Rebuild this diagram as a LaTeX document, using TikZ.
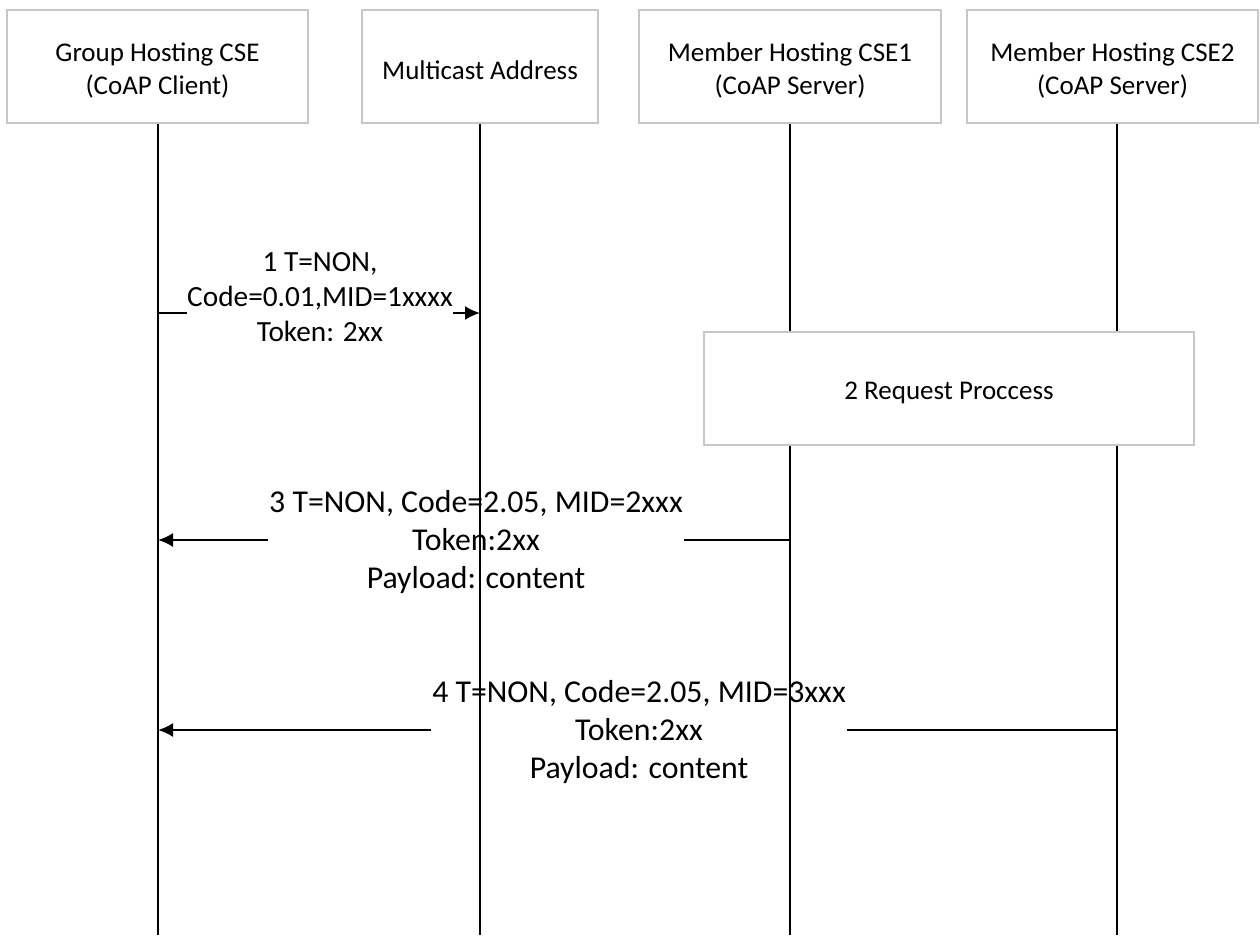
\documentclass[tikz,border=0pt]{standalone}
\usepackage{fontspec}
\setmainfont{Carlito}
\usetikzlibrary{arrows.meta}

\tikzset{
  head/.style={draw=black!22, line width=1.3pt, fill=white,
    minimum height=113pt, inner sep=0pt},
  headtext/.style={align=center, yshift=-4pt, inner sep=0pt,
    font=\fontsize{27}{33}\selectfont},
  lifeline/.style={line width=2pt, black},
  msg/.style={line width=2pt, black, -{Latex[length=15pt,width=14pt]}},
  msglabel/.style={fill=white, align=center, inner xsep=1.5pt, inner ysep=3pt},
  procbox/.style={draw=black!22, line width=1.3pt, fill=white,
    minimum width=490pt, minimum height=113pt, inner sep=0pt}
}

\begin{document}
\begin{tikzpicture}[x=1pt,y=-1pt]
  \useasboundingbox (0,0) rectangle (1260,935);

  % participants
  \node[head, minimum width=301pt,
    label={[headtext]center:{Group Hosting CSE\\(CoAP Client)}}] (h1) at (157.5,66.5) {};
  \node[head, minimum width=236pt,
    label={[headtext]center:{Multicast Address}}] (h2) at (480,66.5) {};
  \node[head, minimum width=302pt,
    label={[headtext]center:{Member Hosting CSE1\\(CoAP Server)}}] (h3) at (790,66.5) {};
  \node[head, minimum width=291pt,
    label={[headtext]center:{Member Hosting CSE2\\(CoAP Server)}}] (h4) at (1112.5,66.5) {};

  % lifeline ends
  \coordinate (e1) at (158,935);
  \coordinate (e2) at (480,935);
  \coordinate (e3) at (790,935);
  \coordinate (e4) at (1117,935);

  % message anchor points on the lifelines
  \coordinate (m1a) at (158,313);
  \coordinate (m1b) at (480,313);
  \coordinate (m3a) at (790,540);
  \coordinate (m3b) at (158,540);
  \coordinate (m4a) at (1117,730);
  \coordinate (m4b) at (158,730);

  % messages
  \draw[msg] (m1a) -- (m1b);
  \draw[msg] (m3a) -- (m3b);
  \draw[msg] (m4a) -- (m4b);

  \node[msglabel, inner xsep=0pt, font=\fontsize{29.3}{35}\selectfont] (t1) at (320,297)
    {1 T=NON,\\Code=0.01,MID=1xxxx\\Token: 2xx};
  \node[msglabel, font=\fontsize{31.8}{38}\selectfont] (t3) at (476,542)
    {3 T=NON, Code=2.05, MID=2xxx\\Token:2xx\\Payload: content};
  \node[msglabel, font=\fontsize{31.8}{38}\selectfont] (t4) at (639,732)
    {4 T=NON, Code=2.05, MID=3xxx\\Token:2xx\\Payload: content};

  % lifelines
  \draw[lifeline] (h1.south -| e1) -- (e1);
  \draw[lifeline] (h2.south -| e2) -- (e2);
  \draw[lifeline] (h3.south -| e3) -- (e3);
  \draw[lifeline] (h4.south -| e4) -- (e4);

  % processing step
  \node[procbox, label={[headtext]center:{2 Request Proccess}}] (p2) at (949,388.5) {};
\end{tikzpicture}
\end{document}
